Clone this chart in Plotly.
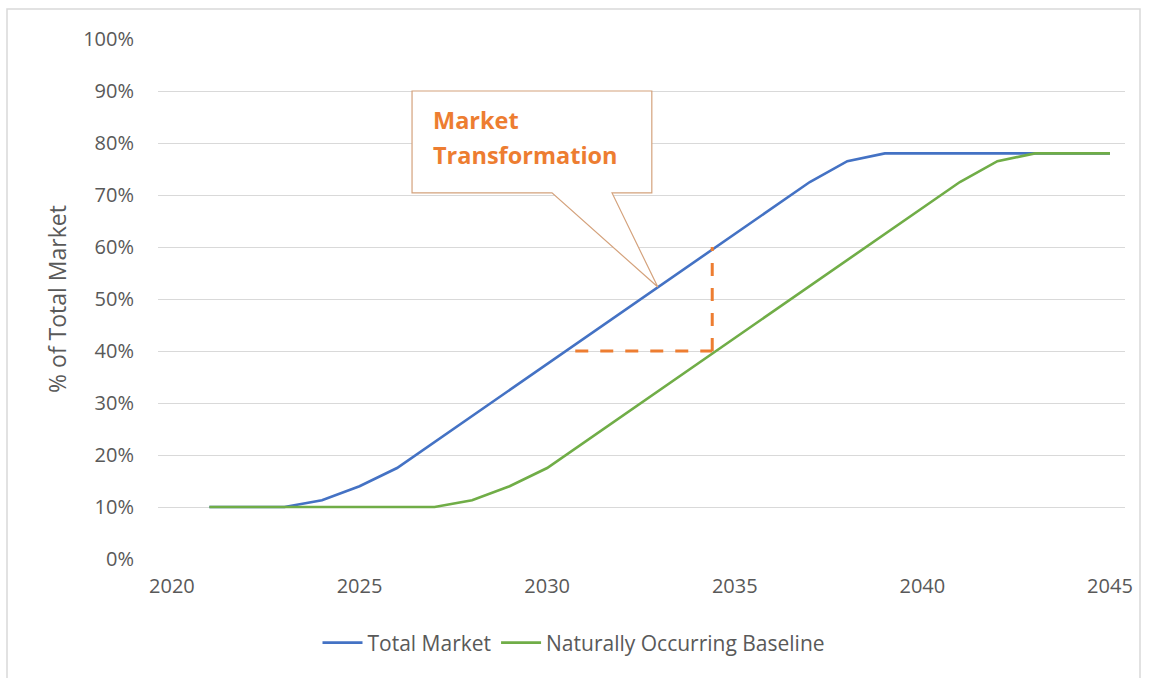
import plotly.graph_objects as go

years = list(range(2021, 2046))
total_market = [10, 10, 10, 11.3, 14, 17.5, 22.5, 27.5, 32.5, 37.5, 42.5, 47.5, 52.5,
                57.5, 62.5, 67.5, 72.5, 76.5, 78, 78, 78, 78, 78, 78, 78]
baseline = [10, 10, 10, 10, 10, 10, 10, 11.3, 14, 17.5, 22.5, 27.5, 32.5, 37.5,
            42.5, 47.5, 52.5, 57.5, 62.5, 67.5, 72.5, 76.5, 78, 78, 78]
series_names = ["Total Market", "Naturally Occurring Baseline"]
x_ticks = [2020, 2025, 2030, 2035, 2040, 2045]
y_ticks = [0, 10, 20, 30, 40, 50, 60, 70, 80, 90, 100]
y_tick_labels = [f"{v}%" for v in y_ticks]

# Annotation geometry (data units)
gap_x, gap_low, gap_high = 2034.4, 40, 60
gap_x_start = 2030.75
box_x0, box_x1, box_y0, box_y1 = 2026.4, 2032.79, 70.4, 90.0
ptr_x0, ptr_x1 = 2030.13, 2031.73
tip_x, tip_y = 2032.95, 52.3

BLUE = "#4472C4"
GREEN = "#70AD47"
ORANGE = "#ED7D31"
GRID = "#D9D9D9"
TXT = "#595959"
FONT = "Open Sans"

fig = go.Figure()
fig.add_trace(go.Scatter(x=years, y=total_market, mode="lines", name=series_names[0],
                         line=dict(color=BLUE, width=2.6)))
fig.add_trace(go.Scatter(x=years, y=baseline, mode="lines", name=series_names[1],
                         line=dict(color=GREEN, width=2.6)))

# dashed gap lines
fig.add_trace(go.Scatter(x=[gap_x, gap_x], y=[gap_low, gap_high], mode="lines",
                         line=dict(color=ORANGE, width=3, dash="13px,12px"),
                         showlegend=False, hoverinfo="skip"))
fig.add_trace(go.Scatter(x=[gap_x_start, gap_x], y=[gap_low, gap_low], mode="lines",
                         line=dict(color=ORANGE, width=3, dash="13px,12px"),
                         showlegend=False, hoverinfo="skip"))

# callout
path = (f"M {box_x0},{box_y1} L {box_x1},{box_y1} L {box_x1},{box_y0} L {ptr_x1},{box_y0} "
        f"L {tip_x},{tip_y} L {ptr_x0},{box_y0} L {box_x0},{box_y0} Z")
fig.add_shape(type="path", path=path, xref="x", yref="y", fillcolor="white",
              line=dict(color="#D4A27C", width=1.2), layer="above")
fig.add_annotation(x=box_x0 + 0.5, y=84.4, xref="x", yref="y", text="<b>Market</b>",
                   showarrow=False, xanchor="left", yanchor="middle",
                   font=dict(family=FONT, size=23.5, color=ORANGE))
fig.add_annotation(x=box_x0 + 0.5, y=77.6, xref="x", yref="y", text="<b>Transformation</b>",
                   showarrow=False, xanchor="left", yanchor="middle",
                   font=dict(family=FONT, size=23.5, color=ORANGE))

# chart border
fig.add_shape(type="rect", xref="paper", yref="paper",
              x0=(7 - 158) / 967, x1=(1140 - 158) / 967,
              y0=(559 - 700) / 520, y1=(559 - 9) / 520,
              line=dict(color=GRID, width=1.5), fillcolor="rgba(0,0,0,0)", layer="below")

fig.update_layout(
    width=1151, height=678,
    margin=dict(l=158, r=26, t=39, b=119),
    paper_bgcolor="white", plot_bgcolor="white",
    font=dict(family=FONT, color=TXT, size=20),
    showlegend=True,
    legend=dict(orientation="h", x=(574 - 158) / 967, xanchor="center",
                y=(559 - 643) / 520, yanchor="middle",
                font=dict(family=FONT, size=21, color=TXT),
                itemwidth=40, tracegroupgap=0, bgcolor="rgba(0,0,0,0)"),
    xaxis=dict(range=[2019.63, 2045.4], tickvals=x_ticks, showgrid=False, zeroline=False,
               showline=False, ticks="", ticklabelstandoff=13,
               tickfont=dict(family=FONT, size=20, color=TXT), fixedrange=True),
    yaxis=dict(range=[0, 100], tickvals=y_ticks, ticktext=y_tick_labels,
               showgrid=True, gridcolor=GRID, gridwidth=1.3, zeroline=False,
               showline=False, ticks="", ticklabelstandoff=23,
               tickfont=dict(family=FONT, size=20, color=TXT),
               title=dict(text="% of Total Market", standoff=10,
                          font=dict(family=FONT, size=23, color=TXT)),
               fixedrange=True),
)

fig.write_html("out.html")
